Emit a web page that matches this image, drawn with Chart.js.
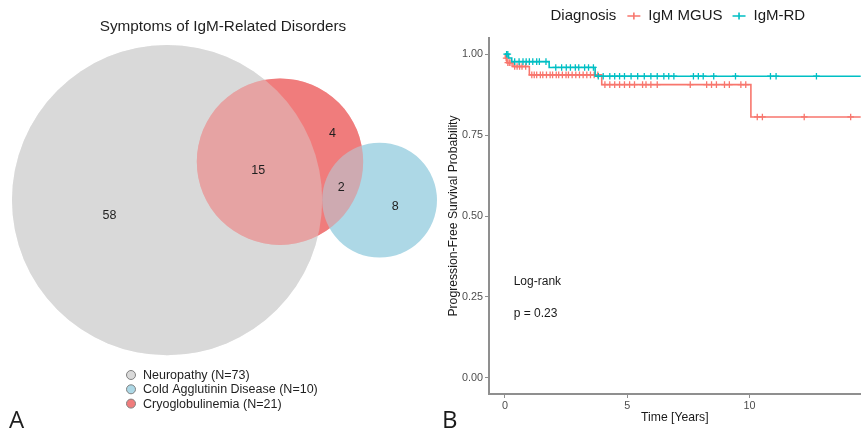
<!DOCTYPE html>
<html>
<head>
<meta charset="utf-8">
<script src="https://cdn.jsdelivr.net/npm/chart.js@4.4.1/dist/chart.umd.min.js"></script>
<style>
  body { margin: 0; background: #fff; }
  #wrap { position: relative; width: 866px; height: 429px; overflow: hidden; }
  canvas { position: absolute; top: 0; }
</style>
</head>
<body>
<div id="wrap">
  <canvas id="vennChart" width="440" height="429" style="left:0"></canvas>
  <canvas id="kmChart" width="426" height="429" style="left:440px"></canvas>
</div>
<script>
const FONT = "'Liberation Sans', Arial, sans-serif";
Chart.defaults.font.family = FONT;

// Panel A: Venn data
const setNames = ['Neuropathy', 'Cold Agglutinin Disease', 'Cryoglobulinemia'];
const regionSets = [[0], [0, 2], [2], [1, 2], [1]];
const regionCounts = [58, 15, 4, 2, 8];

// Panel B: Kaplan-Meier data
const groups = ['IgM MGUS', 'IgM-RD'];
const mgusTimes = [0, 0.02, 0.08, 0.33, 1.0, 3.96, 10.06];
const mgusSurv = [1, 0.988, 0.974, 0.962, 0.936, 0.906, 0.806];
const mgusCensor = [0.05, 0.12, 0.18, 0.25, 0.4, 0.5, 0.6, 0.7, 0.85,
  1.1, 1.2, 1.3, 1.45, 1.55, 1.7, 1.85, 1.95, 2.1, 2.2, 2.35, 2.5, 2.6, 2.75, 2.9, 3.05, 3.2, 3.35, 3.5, 3.65, 3.8,
  4.09, 4.29, 4.49, 4.69, 4.89, 5.1, 5.3, 5.63, 5.77, 5.97, 6.23, 7.58, 8.25, 8.45, 8.65, 8.98, 9.18, 9.65, 9.85,
  10.32, 10.53, 12.24, 14.14];
const rdTimes = [0, 0.15, 0.28, 1.81, 3.69];
const rdSurv = [1, 0.988, 0.977, 0.959, 0.932];
const rdCensor = [0.07, 0.12, 0.4, 0.58, 0.74, 0.87, 1.0, 1.14, 1.3, 1.41, 1.68,
  2.08, 2.32, 2.51, 2.68, 2.88, 3.02, 3.26, 3.42, 3.62,
  3.82, 4.02, 4.29, 4.49, 4.69, 4.89, 5.16, 5.43, 5.7, 5.97, 6.23, 6.5, 6.7, 6.91,
  7.71, 7.91, 8.11, 8.54, 9.43, 10.86, 11.09, 12.74];
const followUpEnd = 15;
const xTicks = [0, 5, 10];
const yTicks = [0, 0.25, 0.5, 0.75, 1];
const pValue = 0.23;

// ---- Venn layout (area proportional circles) ----
const setSizes = setNames.map((_, i) =>
  regionCounts.reduce((s, c, k) => s + (regionSets[k].includes(i) ? c : 0), 0));
const pairCount = (i, j) =>
  regionCounts.reduce((s, c, k) => s + (regionSets[k].includes(i) && regionSets[k].includes(j) ? c : 0), 0);
const radii = setSizes.map(n => Math.sqrt(n / Math.PI));

function overlapArea(r1, r2, d) {
  if (d >= r1 + r2) return 0;
  if (d <= Math.abs(r1 - r2)) return Math.PI * Math.min(r1, r2) ** 2;
  const a = r1 * r1 * Math.acos((d * d + r1 * r1 - r2 * r2) / (2 * d * r1));
  const b = r2 * r2 * Math.acos((d * d + r2 * r2 - r1 * r1) / (2 * d * r2));
  const c = 0.5 * Math.sqrt((-d + r1 + r2) * (d + r1 - r2) * (d - r1 + r2) * (d + r1 + r2));
  return a + b - c;
}
function distanceFor(r1, r2, area) {
  if (area <= 0) return r1 + r2;
  let lo = Math.abs(r1 - r2), hi = r1 + r2;
  for (let i = 0; i < 60; i++) {
    const mid = (lo + hi) / 2;
    if (overlapArea(r1, r2, mid) > area) lo = mid; else hi = mid;
  }
  return (lo + hi) / 2;
}

const d01 = distanceFor(radii[0], radii[1], pairCount(0, 1));
const d02 = distanceFor(radii[0], radii[2], pairCount(0, 2));
const d12 = distanceFor(radii[1], radii[2], pairCount(1, 2));
const cx2 = (d02 * d02 - d12 * d12 + d01 * d01) / (2 * d01);
const centers = [{ x: 0, y: 0 }, { x: d01, y: 0 }, { x: cx2, y: Math.sqrt(Math.max(0, d02 * d02 - cx2 * cx2)) }];

const bbox = {
  left: Math.min(...centers.map((c, i) => c.x - radii[i])),
  right: Math.max(...centers.map((c, i) => c.x + radii[i])),
  top: Math.max(...centers.map((c, i) => c.y + radii[i])),
  bottom: Math.min(...centers.map((c, i) => c.y - radii[i]))
};

// label spot = point of the region farthest from every circle edge
function regionCentre(members) {
  let best = null, bestM = -1;
  for (let x = bbox.left; x <= bbox.right; x += 0.03) {
    for (let y = bbox.bottom; y <= bbox.top; y += 0.03) {
      let ok = true, m = Infinity;
      centers.forEach((c, i) => {
        const dist = Math.hypot(x - c.x, y - c.y);
        if ((dist < radii[i]) !== members.includes(i)) ok = false;
        m = Math.min(m, Math.abs(dist - radii[i]));
      });
      if (ok && m > bestM) { bestM = m; best = { x, y }; }
    }
  }
  return best;
}
const labelSpots = regionSets.map(regionCentre);

// fit circles into the panel
const view = { left: 12, right: 437, top: 45, width: 440, height: 429 };
const pxPerUnit = (view.right - view.left) / (bbox.right - bbox.left);
const vx0 = bbox.left - view.left / pxPerUnit;
const vy1 = bbox.top + view.top / pxPerUnit;

const circleData = i => [{ x: centers[i].x, y: centers[i].y, r: radii[i] * pxPerUnit }];

const vennColors = ['#d9d9d9', '#add8e6', '#f07c7c'];

const vennText = {
  id: 'vennText',
  afterDatasetsDraw(chart) {
    const { ctx, scales: { x, y } } = chart;
    ctx.save();
    ctx.fillStyle = '#1f1f1f';
    ctx.textAlign = 'center';
    ctx.textBaseline = 'middle';
    ctx.font = `12.5px ${FONT}`;
    labelSpots.forEach((p, k) => {
      if (p) ctx.fillText(String(regionCounts[k]), x.getPixelForValue(p.x), y.getPixelForValue(p.y));
    });

    ctx.font = `15.3px ${FONT}`;
    ctx.fillText('Symptoms of IgM-Related Disorders', 223, 27);

    // legend
    ctx.font = `12.5px ${FONT}`;
    ctx.textAlign = 'left';
    setNames.forEach((name, i) => {
      const ly = 375 + i * 14.3;
      ctx.beginPath();
      ctx.arc(131, ly, 4.5, 0, Math.PI * 2);
      ctx.fillStyle = vennColors[i];
      ctx.fill();
      ctx.strokeStyle = '#808080';
      ctx.lineWidth = 1;
      ctx.stroke();
      ctx.fillStyle = '#1f1f1f';
      ctx.fillText(`${name} (N=${setSizes[i]})`, 143, ly + 0.5);
    });

    ctx.font = `24px 'Open Sans', ${FONT}`;
    ctx.textBaseline = 'alphabetic';
    ctx.fillText('A', 9, 428);
    ctx.restore();
  }
};

new Chart(document.getElementById('vennChart'), {
  type: 'bubble',
  data: {
    datasets: [
      { data: circleData(0), backgroundColor: vennColors[0], order: 5 },
      { data: circleData(2), backgroundColor: vennColors[2], order: 4 },
      { data: circleData(1), backgroundColor: vennColors[1], order: 3 },
      { data: circleData(2), backgroundColor: 'rgba(240,124,124,0.5)', order: 2 },
      { data: circleData(0), backgroundColor: 'rgba(217,217,217,0.42)', order: 1 }
    ].map(d => Object.assign(d, { borderWidth: 0, hoverRadius: 0, clip: false }))
  },
  options: {
    responsive: false,
    animation: false,
    events: [],
    layout: { padding: 0, autoPadding: false },
    scales: {
      x: { type: 'linear', display: false, min: vx0, max: vx0 + view.width / pxPerUnit },
      y: { type: 'linear', display: false, min: vy1 - view.height / pxPerUnit, max: vy1 }
    },
    plugins: { legend: { display: false }, tooltip: { enabled: false } }
  },
  plugins: [vennText]
});

// ---- Kaplan-Meier ----
const kmColors = ['#f8766d', '#00bfc4'];
const survAt = (times, surv, t) => {
  let s = surv[0];
  times.forEach((ti, i) => { if (ti <= t) s = surv[i]; });
  return s;
};
const stepPoints = (times, surv) =>
  times.map((t, i) => ({ x: t, y: surv[i] })).concat([{ x: followUpEnd, y: surv[surv.length - 1] }]);
const censorPoints = (times, surv, cens) => cens.map(t => ({ x: t, y: survAt(times, surv, t) }));

const lineSet = (data, color, order) => ({
  data, borderColor: color, borderWidth: 1.6, showLine: true, stepped: true,
  pointRadius: 0, fill: false, tension: 0, order
});
const censorSet = (data, color, order) => ({
  data, pointStyle: 'cross', pointRadius: 3.3, pointBorderWidth: 1.3,
  pointBorderColor: color, borderColor: color, showLine: false, order
});

const axisGrey = '#8f8f8f';

const kmText = {
  id: 'kmText',
  afterDraw(chart) {
    const { ctx, chartArea, scales: { x, y } } = chart;
    ctx.save();
    ctx.fillStyle = '#1a1a1a';
    ctx.textBaseline = 'middle';
    ctx.textAlign = 'left';
    ctx.font = `12px ${FONT}`;
    ctx.fillText('Log-rank', x.getPixelForValue(0.36), y.getPixelForValue(0.296));
    ctx.fillText(`p = ${pValue}`, x.getPixelForValue(0.36), y.getPixelForValue(0.198));

    // legend on top, centred over the panel
    ctx.font = `15px ${FONT}`;
    const title = 'Diagnosis';
    const widths = groups.map(g => ctx.measureText(g).width);
    const mark = 13;
    const total = ctx.measureText(title).width + 11 + widths.reduce((s, w) => s + mark + 8 + w, 0) + 10;
    let lx = (chartArea.left + chartArea.right) / 2 - total / 2 + 3;
    const ly = 16;
    ctx.fillText(title, lx, ly);
    lx += ctx.measureText(title).width + 11;
    groups.forEach((g, i) => {
      ctx.strokeStyle = kmColors[i];
      ctx.lineWidth = 1.6;
      ctx.beginPath();
      ctx.moveTo(lx, ly); ctx.lineTo(lx + mark, ly);
      ctx.moveTo(lx + mark / 2, ly - 3.5); ctx.lineTo(lx + mark / 2, ly + 3.5);
      ctx.stroke();
      lx += mark + 8;
      ctx.fillText(g, lx, ly);
      lx += widths[i] + 10;
    });

    ctx.font = `24px 'Open Sans', ${FONT}`;
    ctx.textBaseline = 'alphabetic';
    ctx.fillText('B', 2, 428);
    ctx.restore();
  }
};

new Chart(document.getElementById('kmChart'), {
  type: 'scatter',
  data: {
    datasets: [
      censorSet(censorPoints(rdTimes, rdSurv, rdCensor), kmColors[1], 0),
      lineSet(stepPoints(rdTimes, rdSurv), kmColors[1], 1),
      censorSet(censorPoints(mgusTimes, mgusSurv, mgusCensor), kmColors[0], 2),
      lineSet(stepPoints(mgusTimes, mgusSurv), kmColors[0], 3)
    ]
  },
  options: {
    responsive: false,
    animation: false,
    events: [],
    layout: { padding: { top: 38, left: 0, right: 0, bottom: 0 } },
    scales: {
      x: {
        type: 'linear', min: -0.65, max: 14.55,
        afterBuildTicks: s => { s.ticks = xTicks.map(v => ({ value: v })); },
        afterFit: s => { s.height = 35; },
        ticks: { color: '#4d4d4d', font: { size: 10.8 }, padding: 2, maxRotation: 0 },
        grid: { display: true, drawOnChartArea: false, drawTicks: true, tickLength: 4, color: axisGrey },
        border: { display: true, color: axisGrey, width: 2 },
        title: { display: true, text: 'Time [Years]', color: '#1a1a1a', font: { size: 12.2 }, padding: { top: 0, bottom: 4.5 } }
      },
      y: {
        type: 'linear', min: -0.05, max: 1.05,
        afterBuildTicks: s => { s.ticks = yTicks.map(v => ({ value: v })); },
        afterFit: s => { s.width = 49; },
        ticks: { color: '#4d4d4d', font: { size: 10.8 }, padding: 2, callback: v => v.toFixed(2) },
        grid: { display: true, drawOnChartArea: false, drawTicks: true, tickLength: 4, color: axisGrey },
        border: { display: true, color: axisGrey, width: 2 },
        title: { display: true, text: 'Progression-Free Survival Probability', color: '#1a1a1a', font: { size: 12.2 }, padding: { top: 6.5, bottom: 0 } }
      }
    },
    plugins: { legend: { display: false }, tooltip: { enabled: false } }
  },
  plugins: [kmText]
});
</script>
</body>
</html>
